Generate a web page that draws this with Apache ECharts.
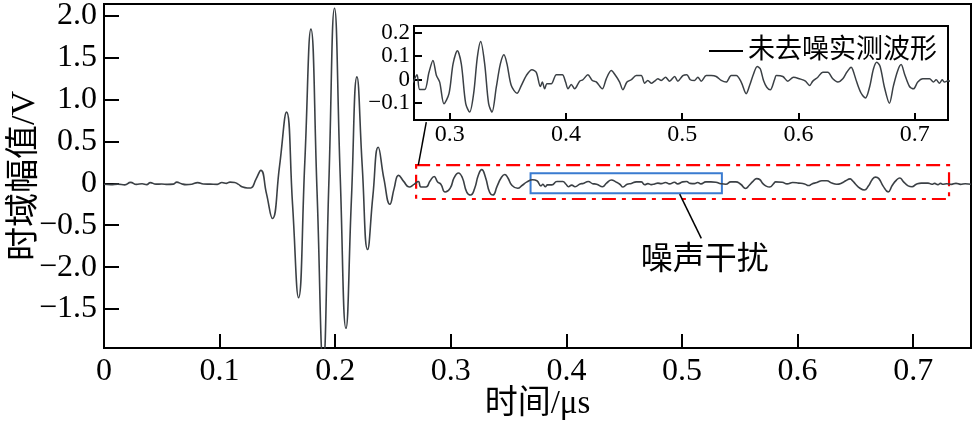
<!DOCTYPE html>
<html>
<head>
<meta charset="utf-8">
<script src="https://cdn.jsdelivr.net/npm/echarts@6/dist/echarts.min.js"></script>
<style>
html,body{margin:0;padding:0;background:#fff;}
#chart{width:977px;height:430px;}
</style>
</head>
<body>
<div id="chart"></div>
<script>
// ---- data ----
const time = [
0,0.006,0.012,0.018,0.023,0.028,0.033,0.037,0.040,0.045,0.050,0.055,0.060,0.063,0.067,0.071,0.076,0.081,0.086,0.092,0.098,0.102,0.106,0.109,0.113,0.116,0.120,0.124,0.127,
0.1315,0.1357,0.1405,0.1457,0.1518,0.1579,0.1631,0.1683,0.1737,0.1790,0.1843,0.1896,0.1945,0.1994,0.2043,0.2093,0.2140,0.2188,0.2234,0.2280,0.2326,0.2372,0.2422,0.2473,0.2510,0.2548,0.2594,0.2640,0.2685,
0.2719,0.2742,0.2785,0.2822,0.2856,0.2886,0.2914,0.2951,0.2994,0.3029,0.3066,0.3100,0.3138,0.3172,0.3206,0.3238,0.3267,0.3301,0.3335,0.3364,0.3401,0.3436,0.3467,0.3493,0.3530,0.3579,0.3616,0.3659,0.3708,0.3745,
0.3780,0.3797,0.3817,0.3837,0.3874,0.3918,0.3969,0.3997,0.4018,0.4046,0.4075,0.4118,0.4146,0.4189,0.4227,0.4261,0.4313,0.4347,0.4390,0.4427,0.4462,0.4490,0.4525,0.4562,0.4605,0.4648,0.4677,0.4705,0.4734,0.4763,
0.4791,0.4820,0.4857,0.4892,0.4935,0.4963,0.5006,0.5040,0.5070,0.5107,0.5135,0.5164,0.5207,0.5250,0.5293,0.5336,0.5379,0.5422,0.5465,0.5508,0.5551,0.5580,0.5614,0.5646,0.5672,0.5700,0.5728,0.5758,0.5795,0.5810,
0.5866,0.5909,0.5958,0.6010,0.6061,0.6096,0.6124,0.6167,0.6210,0.6253,0.6296,0.6339,0.6382,0.6416,0.6454,0.6468,0.6502,0.6540,0.6577,0.6612,0.6646,0.6674,0.6703,0.6740,0.6783,0.6818,0.6855,0.6884,0.6913,0.6956,
0.6990,0.7027,0.7070,0.7128,0.7162,0.7185,0.7214,0.7237,0.7257,0.7290,0.7330,0.7370,0.7410,0.7450,0.7500
];
const amp = [
-0.01,-0.015,-0.01,-0.018,0.012,-0.012,-0.005,-0.015,0.008,-0.01,-0.008,-0.012,-0.01,0.015,-0.005,-0.015,-0.01,0.008,-0.008,-0.01,-0.012,0.01,0.0,0.015,0.01,-0.01,-0.045,-0.055,-0.055,
0.05,0.155,-0.12,-0.42,0.2,0.85,-0.25,-1.365,0.25,1.84,-0.1,-2.15,0.0,2.09,0.1,-1.73,-0.2,1.27,0.2,-0.79,-0.15,0.43,0.05,-0.25,-0.06,0.095,0.02,-0.044,-0.01,
0.021,-0.043,-0.043,0.031,0.082,0.017,-0.011,-0.104,-0.061,0.067,0.124,0.067,-0.104,-0.140,-0.061,0.096,0.163,0.067,-0.104,-0.140,-0.033,0.067,0.106,0.067,-0.026,-0.059,-0.026,0.017,0.042,0.031,
-0.030,-0.011,-0.040,-0.018,-0.018,0.021,0.021,-0.011,-0.040,-0.021,-0.040,-0.007,-0.001,0.021,-0.004,-0.010,-0.040,0.003,0.039,0.017,-0.011,-0.044,-0.011,-0.001,0.017,0.017,-0.016,-0.004,-0.016,-0.007,
0.003,-0.004,0.010,-0.007,0.013,-0.007,0.017,0.021,-0.001,-0.004,0.010,-0.007,0.017,0.017,0.013,-0.004,-0.011,0.017,0.017,-0.011,-0.061,-0.026,0.024,0.056,0.046,-0.004,-0.033,-0.044,0.000,0.017,
0.013,-0.007,0.010,0.003,-0.007,-0.026,-0.007,0.010,0.031,0.031,0.003,-0.011,0.003,0.031,0.053,0.042,-0.011,-0.059,-0.079,-0.033,0.046,0.074,0.056,-0.033,-0.102,-0.026,0.039,0.064,0.024,-0.030,
-0.040,-0.011,0.003,0.003,-0.011,-0.001,-0.016,-0.001,-0.011,-0.005,-0.012,0.000,-0.012,-0.005,-0.010
];
const xTicks = [0,0.1,0.2,0.3,0.4,0.5,0.6,0.7];
const xTickLabels = ['0','0.1','0.2','0.3','0.4','0.5','0.6','0.7'];
const yTicks = [-1.5,-1,-0.5,0,0.5,1,1.5,2];
const yTickLabels = ['\u22121.5','\u22122.0','\u22120.5','0','0.5','1.0','1.5','2.0'];
const insetXTicks = [0.3,0.4,0.5,0.6,0.7];
const insetXTickLabels = ['0.3','0.4','0.5','0.6','0.7'];
const insetYTicks = [-0.1,0,0.1,0.2];
const insetYTickLabels = ['\u22120.1','0','0.1','0.2'];
// annotation regions (data units)
const zoomBox = {x0:0.270, x1:0.731, y0:-0.187, y1:0.218};
const noiseBox = {x0:0.369, x1:0.5345, y0:-0.119, y1:0.119};
const noiseLabel = '噪声干扰';
const seriesName = '未去噪实测波形';

const points = time.map((t,i)=>[t, amp[i]]);
function lab(ticks, labels){
  return function(v){
    const i = ticks.findIndex(t=>Math.abs(t-v)<1e-9);
    return i>=0 ? labels[i] : '';
  };
}
const serif = "'Liberation Serif','Times New Roman',serif";
const cjk = "'Liberation Serif','Noto Sans CJK SC',sans-serif";

const chart = echarts.init(document.getElementById('chart'), null, {renderer:'canvas'});
const lineColor = '#3b4045';
chart.setOption({
  animation:false,
  backgroundColor:'#fff',
  legend:{
    data:[seriesName], left:704, top:31, icon:'rect', itemWidth:34, itemHeight:2,
    textStyle:{fontSize:27, fontFamily:cjk, color:'#000', lineHeight:30}
  },
  grid:[
    {left:104, top:4, width:867, height:344, show:true, borderColor:'#000', borderWidth:2, backgroundColor:'rgba(0,0,0,0)', outerBoundsMode:'none', containLabel:false},
    {left:414, top:26, width:534, height:94, show:true, borderColor:'#000', borderWidth:2, backgroundColor:'#fff', z:3, outerBoundsMode:'none', containLabel:false}
  ],
  xAxis:[
    {type:'value', gridIndex:0, min:0, max:0.75,
     axisLine:{show:true, onZero:false, lineStyle:{color:'#000', width:2}},
     axisTick:{show:true, inside:true, length:14, customValues:xTicks, lineStyle:{color:'#000', width:2}},
     axisLabel:{customValues:xTicks, formatter:lab(xTicks,xTickLabels), fontSize:32, fontFamily:serif, color:'#000', margin:8, showMinLabel:true, showMaxLabel:true},
     splitLine:{show:false},
     name:'时间/μs', nameLocation:'middle', nameGap:40, nameMoveOverlap:false,
     nameTextStyle:{fontSize:33, fontFamily:cjk, color:'#000'}},
    {type:'value', gridIndex:1, min:0.2693, max:0.7287,
     axisLine:{show:true, onZero:false, lineStyle:{color:'#000', width:2}},
     axisTick:{show:true, inside:true, length:7, customValues:insetXTicks, lineStyle:{color:'#000', width:2}},
     axisLabel:{customValues:insetXTicks, formatter:lab(insetXTicks,insetXTickLabels), fontSize:24, fontFamily:serif, color:'#000', margin:3, showMinLabel:true, showMaxLabel:true},
     splitLine:{show:false}, z:4}
  ],
  yAxis:[
    {type:'value', gridIndex:0, min:-1.965, max:2.14,
     axisLine:{show:true, onZero:false, lineStyle:{color:'#000', width:2}},
     axisTick:{show:true, inside:true, length:15, customValues:yTicks, lineStyle:{color:'#000', width:2}},
     axisLabel:{customValues:yTicks, formatter:lab(yTicks,yTickLabels), fontSize:32, fontFamily:serif, color:'#000', margin:7, showMinLabel:true, showMaxLabel:true},
     splitLine:{show:false},
     name:'时域幅值/V', nameLocation:'middle', nameRotate:90, nameGap:62, nameMoveOverlap:false,
     nameTextStyle:{fontSize:34, fontFamily:cjk, color:'#000'}},
    {type:'value', gridIndex:1, min:-0.174, max:0.23,
     axisLine:{show:true, onZero:false, lineStyle:{color:'#000', width:2}},
     axisTick:{show:true, inside:true, length:8, customValues:insetYTicks, lineStyle:{color:'#000', width:2}},
     axisLabel:{customValues:insetYTicks, formatter:lab(insetYTicks,insetYTickLabels), fontSize:23, lineHeight:20, fontFamily:serif, color:'#000', margin:4, hideOverlap:false, showMinLabel:true, showMaxLabel:true},
     splitLine:{show:false}, z:4}
  ],
  series:[
    {type:'line', name:'main', xAxisIndex:0, yAxisIndex:0, data:points, showSymbol:false, symbol:'none', smooth:0.5,
     lineStyle:{color:lineColor, width:1.6}, itemStyle:{color:lineColor}, clip:true, z:2,
     markArea:{silent:true, data:[
       [{coord:[zoomBox.x0, zoomBox.y1], itemStyle:{color:'rgba(0,0,0,0)', borderColor:'#ff0000', borderWidth:2.2, borderType:[14,6,4,6]}},
        {coord:[zoomBox.x1, zoomBox.y0]}],
       [{coord:[noiseBox.x0, noiseBox.y1], itemStyle:{color:'rgba(0,0,0,0)', borderColor:'#3a7bd0', borderWidth:2}},
        {coord:[noiseBox.x1, noiseBox.y0]}]
     ]},
     markLine:{silent:true, symbol:['none','none'], label:{show:false}, lineStyle:{color:'#000', width:1.5, type:'solid'},
       data:[
         [{coord:[0.2788, 0.731]},{coord:[0.2719, zoomBox.y1]}],
         [{coord:[0.498, -0.128]},{coord:[0.5167, -0.656]}]
       ]},
     markPoint:{silent:true, symbol:'circle', symbolSize:1, itemStyle:{color:'rgba(0,0,0,0)'},
       label:{show:true, position:'inside', formatter:noiseLabel, fontSize:32, fontFamily:cjk, color:'#000'},
       data:[{coord:[0.5196, -0.925]}]}
    },
    {type:'line', name:seriesName, xAxisIndex:1, yAxisIndex:1, data:points, showSymbol:false, symbol:'none', smooth:0.3,
     lineStyle:{color:lineColor, width:1.5}, itemStyle:{color:'#000'}, clip:true, z:6}
  ]
});
</script>
</body>
</html>
